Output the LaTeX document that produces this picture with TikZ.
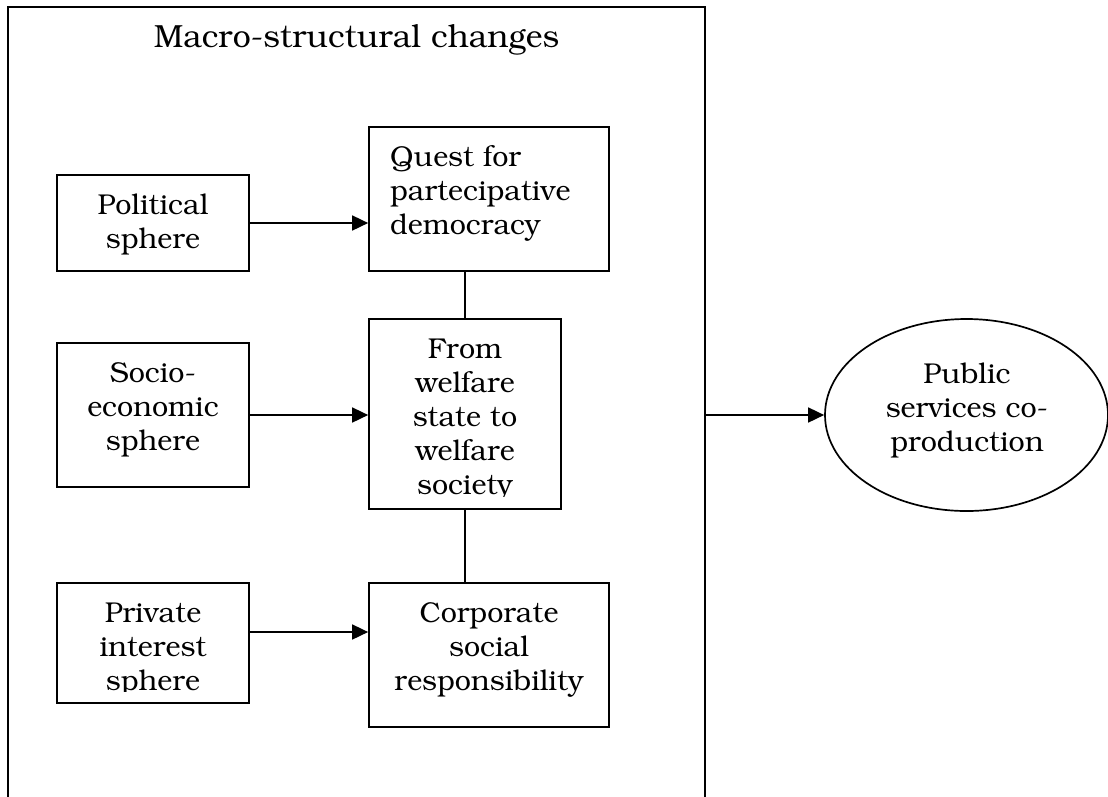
\documentclass[tikz,border=0pt]{standalone}
\usepackage[T1]{fontenc}
\usepackage{bookman}
\usetikzlibrary{arrows.meta,shapes.geometric}

\tikzset{
  frame/.style={draw, line width=1.7pt, inner sep=0pt},
  panel/.style={frame, rectangle, minimum width=#1},
  bodytext/.style={inner sep=0pt, align=center, anchor=north,
    font=\fontsize{28.7}{34}\selectfont},
  titletext/.style={inner sep=0pt, anchor=base,
    font=\fontsize{32}{38}\selectfont},
  flow/.style={line width=1.7pt, -{Triangle[length=16pt,width=15pt]}},
  link/.style={line width=1.7pt},
}

\begin{document}
\begin{tikzpicture}[x=1pt,y=-1pt]
\useasboundingbox (0,0) rectangle (1108,796);
\clip (0,0) rectangle (1108,796);

% outer frame, open at the bottom of the page
\node[panel=697pt, minimum height=833pt] (macro) at (356.5,423.5) {};
\node[titletext] (title) at (356.5,47) {Macro-structural changes};

% left column
\node[panel=192pt, minimum height=96pt]  (pol)  at (153,223) {};
\node[panel=192pt, minimum height=144pt] (soc)  at (153,415) {};
\node[panel=192pt, minimum height=120pt] (priv) at (153,643) {};

% middle column
\node[panel=240pt, minimum height=144pt] (quest) at (489,199) {};
\node[panel=192pt, minimum height=190pt] (wel)   at (465,414) {};
\node[panel=240pt, minimum height=144pt] (csr)   at (489,655) {};

% outcome
\node[frame, ellipse, minimum width=283pt, minimum height=192pt] (pub) at (966.5,415) {};

% texts
\node[bodytext] (poltext) at (153,190.2) {\strut Political\\sphere};
\node[bodytext] (soctext) at (153,358.2) {\strut Socio-\\economic\\sphere};
\begin{scope}
  \clip (57,583) rectangle (249,691);
  \node[bodytext] (privtext) at (153,598.2) {\strut Private\\interest\\sphere};
\end{scope}
\node[bodytext, align=left, anchor=north west] (questtext) at (390,142.2)
  {\strut Quest for\\partecipative\\democracy};
\begin{scope}
  \clip (369,319) rectangle (561,496);
  \node[bodytext] (weltext) at (465,334.2)
    {\strut From\\welfare\\state to\\welfare\\society};
\end{scope}
\node[bodytext] (csrtext) at (489,598.2) {\strut Corporate\\social\\responsibility};
\node[bodytext] (pubtext) at (967,359.2) {\strut Public\\services co-\\production};

% connectors
\draw[flow] (pol.east) -- (pol.east -| quest.west);
\draw[flow] (soc.east) -- (soc.east -| wel.west);
\draw[flow] ([yshift=11pt]priv.east) -- ([yshift=11pt]priv.east -| csr.west);
\draw[link] (wel.north) -- (wel.north |- quest.south);
\draw[link] (wel.south) -- (wel.south |- csr.north);
\draw[flow] (macro.east |- pub.west) -- (pub.west);
\end{tikzpicture}
\end{document}
